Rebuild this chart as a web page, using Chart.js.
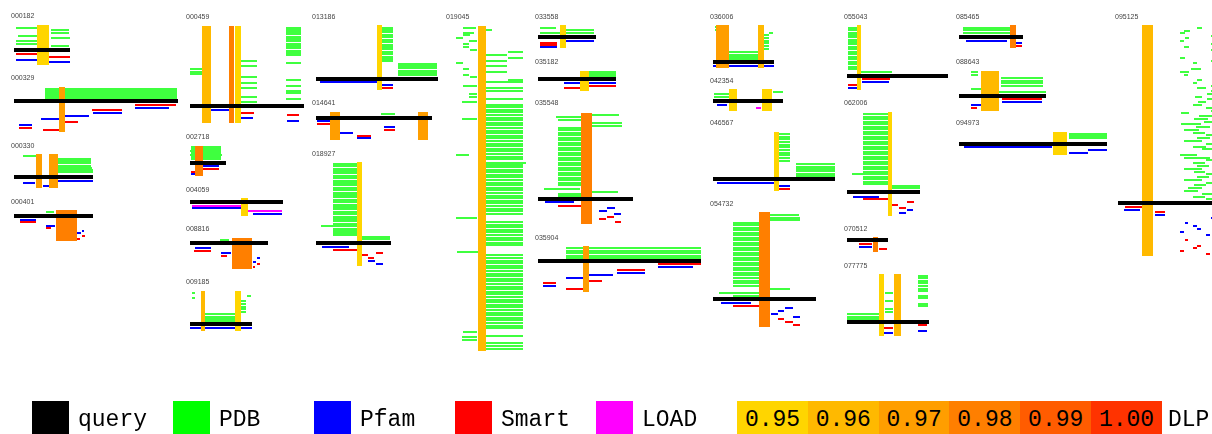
<!DOCTYPE html>
<html>
<head>
<meta charset="utf-8">
<script src="https://cdn.jsdelivr.net/npm/chart.js@4/dist/chart.umd.min.js"></script>
<style>
  html, body { margin: 0; padding: 0; background: #fff; }
  body { width: 1212px; height: 434px; overflow: hidden; position: relative; }
  #c { position: absolute; left: 0; top: 0; }
  #legend { position: absolute; left: 0; top: 0; width: 1212px; height: 434px; pointer-events: none; }
  .box { position: absolute; top: 401px; height: 40px; }
  .txt { position: absolute; top: 407px; font: 23px "Liberation Mono", "DejaVu Sans Mono", monospace; line-height: 26px; color: #000; white-space: nowrap; }
  .cell { position: absolute; top: 401px; height: 40px; font: 23px "Liberation Mono", "DejaVu Sans Mono", monospace; line-height: 26px; text-align: center; padding-top: 6px; box-sizing: border-box; color: #000; }
</style>
</head>
<body>
<canvas id="c" width="1212" height="390"></canvas>
<div id="legend"></div>
<script>
// Protein panels: query chain, PDB / Pfam / Smart / LOAD hits and DLP-predicted regions.
const panelIds = ['000182','000329','000330','000401','000459','002718','004059','008816','009185',
  '013186','014641','018927','019045','033558','035182','035548','035904','036006','042354',
  '046567','054732','055043','062006','070512','077775','085465','088643','094973','095125'];

// Tile origin of every panel on the sheet (layout only)
const panelOrigin = [[14,50],[14,101],[14,177],[14,216],[190,106],[190,163],[190,202],[190,243],[190,324],
  [316,79],[316,118],[316,243],[440,0],[530,0],[530,0],[530,0],[530,0],[700,0],[700,0],[700,0],[700,0],
  [840,0],[840,0],[840,0],[840,0],[950,0],[950,0],[950,0],[1108,0]];
const labelPos = [[11,16],[11,78],[11,146],[11,202],[186,17],[186,137],[186,190],[186,229],[186,282],
  [312,17],[312,103],[312,154],[446,17],[535,17],[535,62],[535,103],[535,238],[710,17],[710,81],[710,123],[710,204],
  [844,17],[844,103],[844,229],[844,266],[956,17],[956,62],[956,123],[1115,17]];

// Hits: [panel, start, end, rows]
const queryHits = [
  [0,0,56,[0]],[1,0,164,[0]],[2,0,79,[0]],[3,0,79,[0]],[4,0,114,[0]],[5,0,36,[0]],[6,0,93,[0]],[7,0,78,[0]],[8,0,62,[0]],
  [9,0,122,[0]],[10,0,116,[0]],[11,0,75,[0]],[13,8,66,[37]],[14,8,86,[79]],[15,8,103,[199]],[16,8,171,[261]],
  [17,13,74,[62]],[18,13,83,[101]],[19,13,135,[179]],[20,13,116,[299]],[21,7,108,[76]],[22,7,80,[192]],
  [23,7,48,[240]],[24,7,89,[322]],[25,9,73,[37]],[26,9,96,[96]],[27,9,157,[144]],[28,10,104,[203]]
];

const pdbHits = [
  [0,2,23,[-22,-9,-6]],[0,4,23,[-14]],[0,37,55,[-20,-17,-4]],[0,37,56,[-12]],
  [1,31,163,[-12,-10,-8,-6,-4,-2]],
  [2,9,22,[-21]],[2,40,77,[-18,-16,-14,-11]],[2,40,78,[-9]],[2,41,79,[-7,-5]],
  [3,32,40,[-4]],
  [4,0,12,[-37,-34,-32]],[4,49,67,[-45,-40,-29,-23,-18,-9,-4]],
  [4,96,111,[-78,-76,-74,-72,-69,-67,-65,-62,-60,-58,-55,-53,-51,-43,-26,-20,-15,-13,-7]],
  [5,1,31,[-16,-14,-10,-6,-4]],[5,0,31,[-12]],[5,0,32,[-8]],
  [7,30,39,[-3]],
  [8,2,5,[-31,-26]],[8,57,61,[-28]],[8,50,56,[-23,-20,-17,-15,-12]],[8,15,47,[-10,-7,-5]],[8,15,49,[-3]],
  [9,66,77,[-51,-49,-47,-44,-42,-39,-37,-34,-32,-30,-27,-25,-22,-20,-18]],[9,82,121,[-15,-13,-11,-8,-6,-4]],
  [10,65,79,[-4]],
  [11,17,42,[-79,-77,-74,-72,-70,-67,-65,-62,-60,-58,-55,-53,-50,-48,-46,-43,-41,-38,-36,-34,-31,-29,-26,-24,-22,-19,-14,-12,-10,-8]],
  [11,5,42,[-17]],[11,41,74,[-6,-4]],
  [12,23,36,[28]],[12,23,34,[33]],[12,23,30,[35]],[12,16,23,[38,63]],[12,29,37,[41]],[12,23,29,[44,47,69,75]],
  [12,30,37,[50,77]],[12,23,37,[86,332]],[12,29,37,[94,97]],[12,22,37,[102,119,337,340]],[12,16,29,[155]],
  [12,16,37,[218]],[12,17,39,[252]],
  [12,46,52,[30]],[12,68,83,[52,58,80]],[12,46,67,[55,61,66,72]],[12,46,86,[163]],
  [12,46,83,[82,88,91,99,105,107,110,112,115,118,120,123,125,128,131,133,136,138,141,144,146,149,151,154,157,159,
    165,167,170,172,175,177,180,183,185,188,190,193,196,198,201,203,206,209,211,214,222,225,227,230,232,235,238,240,
    243,245,255,258,261,263,266,268,271,274,276,279,281,284,287,289,292,294,297,300,302,305,307,310,313,315,318,320,
    323,326,328,336,343,346,349]],
  [13,10,26,[28]],[13,34,64,[30,33]],[13,10,30,[33]],
  [14,59,86,[72,74,76]],
  [15,26,53,[117]],[15,28,53,[120,128,130,133,135,138,140,143,145,148,150,153,155,158,160,163,165,168,170,173,175,178,180,183,185,194,196]],
  [15,62,89,[115]],[15,62,92,[123,126]],[15,14,50,[189]],[15,52,88,[192]],
  [16,36,171,[248,251,253,256,258]],
  [17,15,18,[27,30]],[17,69,73,[33]],[17,63,69,[35,38,41,43,46,49]],[17,28,61,[52,55,57]],[17,28,62,[59]],
  [18,14,31,[94,97]],[18,73,83,[92]],
  [19,79,90,[134,137,139,142,145,147,150,153,155,158,161]],[19,96,135,[164,167,169,171,174,176]],
  [20,69,99,[215]],[20,69,100,[218,220]],
  [20,33,60,[223,225,228,230,233,235,238,240,243,245,248,250,253,255,258,260,263,265,268,270,273,275,278,281,283,286,296]],
  [20,19,60,[293]],[20,60,90,[289]],
  [21,8,17,[28,30,33,35,37,40,42,44,47,49,52,54,57,59,62,64,67,69]],[21,19,52,[72]],
  [22,23,50,[114,117,119,122,124,127,129,132,134,137,139,142,144,147,149,152,154,157,159,162,164,167,169,172,177,179,182,184]],
  [22,12,50,[174]],[22,48,80,[186,188]],
  [24,7,39,[314,317,319]],[24,45,53,[293,301,309,312]],[24,78,88,[276,278,281,283,286,289,291,296,298,304,306]],
  [25,13,61,[28,30,33]],
  [26,21,28,[72,75]],[26,21,33,[89]],[26,51,93,[78,81,83,86]],[26,48,96,[92]],
  [27,119,157,[134,136,138]],
  [28,89,94,[28,80]],[28,76,82,[31]],[28,72,77,[33,58]],[28,103,104,[36,44,50,61,86,91,111]],[28,77,81,[38]],
  [28,72,76,[41]],[28,76,81,[47]],[28,85,89,[63,83]],[28,83,93,[69]],[28,72,81,[72]],[28,76,80,[75]],
  [28,89,98,[88]],[28,99,104,[94,99]],[28,87,94,[97]],[28,90,98,[102]],[28,85,94,[105]],[28,98,104,[108,135,144,160,174,183,199]],
  [28,73,81,[113]],[28,91,104,[116]],[28,86,100,[119]],[28,96,104,[122]],[28,73,93,[124]],[28,88,102,[127]],
  [28,76,91,[130]],[28,85,97,[133,163,197]],[28,89,102,[138]],[28,76,94,[141,169,180]],[28,85,98,[147]],
  [28,94,104,[149,194]],[28,72,89,[155]],[28,76,102,[158]],[28,89,101,[166,177]],[28,86,97,[172]],
  [28,86,98,[185]],[28,80,94,[188]],[28,76,90,[191]]
];

const pfamHits = [
  [0,2,23,[10]],[0,35,56,[12]],
  [1,79,108,[12]],[1,121,155,[7]],[1,50,75,[15]],[1,27,45,[18]],[1,5,18,[24]],
  [2,9,21,[6]],[2,29,35,[9]],[2,43,79,[4]],
  [3,6,22,[4]],[3,32,41,[10]],[3,63,67,[17]],[3,68,70,[15]],
  [4,19,40,[4]],[4,51,63,[12]],[4,97,109,[15]],
  [5,13,29,[3]],[5,1,5,[11]],
  [6,2,54,[6]],[6,63,92,[12]],
  [7,5,21,[5]],[7,31,41,[10]],[7,63,66,[19]],[7,67,70,[15]],
  [8,0,62,[4]],
  [9,4,63,[3]],[9,65,77,[6]],
  [10,1,15,[3]],[10,24,37,[15]],[10,41,55,[20]],[10,68,79,[9]],
  [11,6,33,[4]],[11,52,59,[18]],[11,60,67,[21]],
  [13,35,64,[41]],[13,10,27,[47]],
  [14,34,86,[83]],
  [15,15,44,[202]],[15,69,77,[211]],[15,77,85,[208]],[15,84,91,[214]],
  [16,128,163,[267]],[16,87,115,[273]],[16,58,83,[275]],[16,36,53,[278]],[16,13,26,[286]],
  [17,13,74,[66]],
  [18,17,27,[105]],
  [19,17,76,[183]],[19,79,90,[186]],
  [20,21,51,[303]],[20,71,78,[314]],[20,78,84,[311]],[20,85,93,[308]],[20,93,100,[317]],
  [21,22,49,[82]],[21,8,17,[88]],
  [22,13,39,[197]],[22,67,73,[210]],[22,59,66,[213]],
  [23,19,32,[247]],
  [24,44,53,[333]],[24,78,87,[331]],
  [25,16,57,[41]],[25,66,72,[43]],
  [26,52,92,[102]],[26,21,31,[105]],
  [27,14,102,[147]],[27,119,138,[153]],[27,138,157,[150]],
  [28,16,32,[210]],[28,47,57,[215]],[28,77,80,[223]],[28,72,76,[232]],[28,85,89,[226]],[28,89,93,[229]],
  [28,98,102,[235]],[28,103,104,[218]]
];

const smartHits = [
  [0,2,23,[4]],[0,35,56,[7]],
  [1,78,108,[9]],[1,121,162,[4]],[1,48,64,[21]],[1,29,45,[29]],[1,5,18,[27]],
  [3,6,22,[6]],[3,32,37,[12]],[3,63,66,[23]],[3,68,71,[20]],
  [4,51,64,[7]],[4,97,109,[9]],
  [5,13,29,[6]],[5,1,5,[9]],
  [7,4,21,[8]],[7,31,37,[13]],[7,63,65,[24]],[7,67,70,[21]],
  [9,65,77,[9]],
  [10,1,15,[6]],[10,41,55,[18]],[10,68,79,[12]],
  [11,17,42,[7]],[11,44,52,[12]],[11,52,58,[15]],[11,60,67,[10]],
  [13,10,27,[43,45]],
  [14,59,86,[86]],[14,34,52,[88]],
  [15,28,54,[206]],[15,69,76,[219]],[15,77,84,[217]],[15,85,91,[222]],
  [16,128,171,[264]],[16,87,115,[270]],[16,57,72,[281]],[16,13,26,[283]],[16,36,53,[289]],
  [19,79,90,[189]],
  [20,33,61,[306]],[20,78,84,[319]],[20,85,93,[322]],[20,93,100,[325]],
  [21,22,50,[79]],[21,8,17,[85]],
  [22,23,49,[199]],[22,52,58,[205]],[22,59,66,[208]],[22,67,74,[202]],
  [23,19,32,[244]],[23,39,47,[249]],
  [24,44,53,[328]],[24,78,87,[325]],
  [25,66,72,[46]],
  [26,52,92,[99]],[26,21,27,[108]],
  [28,17,34,[207]],[28,47,57,[212]],[28,77,80,[240]],[28,72,76,[251]],[28,85,89,[248]],[28,89,93,[246]],[28,98,102,[254]]
];

const loadHits = [
  [6,2,54,[4]],[6,58,92,[9]],
  [18,56,61,[108]]
];

// DLP regions: [panel, start, end, top, bottom, score]
const dlpRegions = [
  [0,23,35,-25,15,0.95],[1,45,51,-14,31,0.97],[2,22,28,-23,11,0.97],[2,35,44,-23,11,0.97],[3,42,63,-6,25,0.98],
  [4,12,21,-80,17,0.96],[4,39,44,-80,17,0.98],[4,45,51,-80,17,0.95],[5,5,13,-17,13,0.98],[6,51,58,-4,14,0.95],
  [7,42,62,-5,26,0.98],[8,11,15,-33,7,0.96],[8,45,51,-33,7,0.95],[9,61,66,-54,11,0.95],[10,14,24,-6,22,0.97],
  [10,102,112,-6,22,0.97],[11,41,46,-81,23,0.95],[12,38,46,26,351,0.96],[13,30,36,25,48,0.95],[14,50,59,71,91,0.95],
  [15,51,62,113,224,0.98],[16,53,59,246,292,0.97],[17,16,29,25,68,0.97],[17,58,64,25,68,0.96],[18,29,37,89,111,0.95],
  [18,62,72,89,111,0.95],[19,74,79,132,191,0.95],[20,59,70,212,327,0.98],[21,17,21,25,90,0.95],[22,48,52,112,216,0.95],
  [23,33,38,237,252,0.98],[24,39,44,274,336,0.95],[24,54,61,274,336,0.96],[25,60,66,25,48,0.98],[26,31,49,71,111,0.96],
  [27,103,117,132,155,0.95],[28,34,45,25,256,0.96]
];

const dlpScores = [0.95, 0.96, 0.97, 0.98, 0.99, 1.00];
const dlpColors = ['#FFD500', '#FFB900', '#FF9E00', '#FF7F00', '#FF5C00', '#FF3300'];
const legendLabels = ['query', 'PDB', 'Pfam', 'Smart', 'LOAD'];
const legendColors = ['#000000', '#00FF00', '#0000FF', '#FF0000', '#FF00FF'];

const SHEET_W = 1212, SHEET_H = 390;

function segments(list) {
  const pts = [];
  for (const [p, s, e, rows] of list) {
    const [ox, oy] = panelOrigin[p];
    for (const r of rows) {
      pts.push({x: ox + s, y: oy + r}, {x: ox + e, y: oy + r}, {x: NaN, y: null});
    }
  }
  return pts;
}

function hitSet(label, list, color, width) {
  return {
    label, data: segments(list), borderColor: color, borderWidth: width,
    pointRadius: 0, spanGaps: false, tension: 0, fill: false, borderCapStyle: 'butt'
  };
}

function dlpSet(region) {
  const [p, s, e, t, b, score] = region;
  const [ox, oy] = panelOrigin[p];
  const color = dlpColors[dlpScores.indexOf(score)];
  return {
    label: 'DLP ' + panelIds[p],
    data: [{x: ox + s, y: oy + t}, {x: ox + e, y: oy + t}, {x: ox + e, y: oy + b}, {x: ox + s, y: oy + b}],
    borderColor: 'rgba(0,0,0,0)', borderWidth: 0, backgroundColor: color,
    fill: 'shape', pointRadius: 0, tension: 0
  };
}

// First dataset is drawn on top
const datasets = [
  hitSet('query', queryHits, '#000000', 4),
  ...dlpRegions.map(dlpSet),
  hitSet('LOAD', loadHits, '#FF00FF', 2),
  hitSet('Smart', smartHits, '#FF0000', 2),
  hitSet('Pfam', pfamHits, '#0000FF', 2),
  hitSet('PDB', pdbHits, '#00FF00', 1.3)
];

const panelLabels = {
  id: 'panelLabels',
  afterDatasetsDraw(chart) {
    const {ctx, scales: {x, y}} = chart;
    ctx.save();
    ctx.font = '7px "Liberation Sans", Arial, sans-serif';
    ctx.fillStyle = '#444';
    ctx.textBaseline = 'middle';
    ctx.textAlign = 'left';
    panelIds.forEach((id, i) => {
      ctx.fillText(id, x.getPixelForValue(labelPos[i][0]), y.getPixelForValue(labelPos[i][1]));
    });
    ctx.restore();
  }
};

new Chart(document.getElementById('c'), {
  type: 'line',
  data: {datasets},
  options: {
    responsive: false, animation: false, devicePixelRatio: 1,
    layout: {padding: 0},
    scales: {
      x: {type: 'linear', min: 0, max: SHEET_W, display: false},
      y: {type: 'linear', min: 0, max: SHEET_H, reverse: true, display: false}
    },
    plugins: {legend: {display: false}, tooltip: {enabled: false}},
    elements: {line: {borderJoinStyle: 'miter'}}
  },
  plugins: [panelLabels]
});

// Legend strip
const legend = document.getElementById('legend');
legendLabels.forEach((name, i) => {
  const left = 32 + i * 141;
  const box = document.createElement('div');
  box.className = 'box';
  box.style.left = left + 'px';
  box.style.width = '37px';
  box.style.background = legendColors[i];
  legend.appendChild(box);
  const t = document.createElement('div');
  t.className = 'txt';
  t.style.left = (left + 46) + 'px';
  t.textContent = name;
  legend.appendChild(t);
});
dlpScores.forEach((s, i) => {
  const c = document.createElement('div');
  c.className = 'cell';
  c.style.left = (737 + i * 70.8) + 'px';
  c.style.width = '71px';
  c.style.background = dlpColors[i];
  c.textContent = s.toFixed(2);
  legend.appendChild(c);
});
const dlpT = document.createElement('div');
dlpT.className = 'txt';
dlpT.style.left = '1168px';
dlpT.textContent = 'DLP';
legend.appendChild(dlpT);
</script>
</body>
</html>
